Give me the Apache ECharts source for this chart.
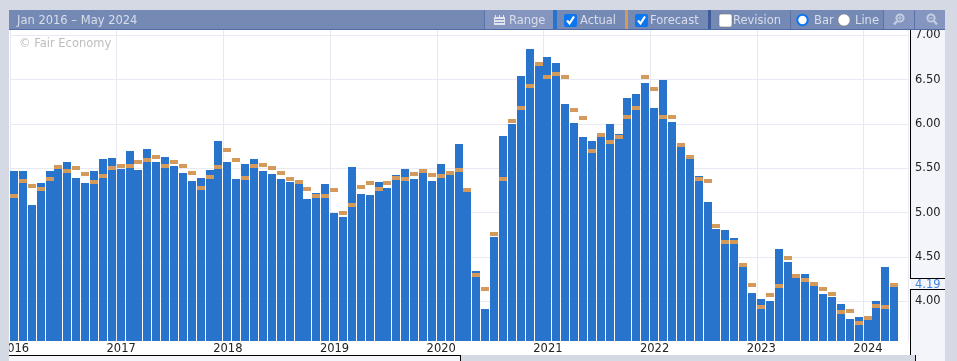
<!DOCTYPE html>
<html><head><meta charset="utf-8">
<style>html,body{margin:0;padding:0;background:#d5d9e3;overflow:hidden}#c{width:957px;height:361px}</style>
<script src="https://cdn.jsdelivr.net/npm/echarts@6/dist/echarts.min.js"></script>
</head><body><div id="c"></div>
<script>
const years = [2016,2017,2018,2019,2020,2021,2022,2023,2024];
const actual = [
5.47,5.47,5.08,5.33,5.46,5.49,5.57,5.39,5.33,5.47,5.60,5.61,
5.49,5.69,5.48,5.71,5.57,5.62,5.52,5.44,5.35,5.39,5.48,5.80,
5.57,5.38,5.55,5.60,5.47,5.43,5.38,5.34,5.32,5.15,5.22,5.32,
4.99,4.95,5.51,5.21,5.20,5.34,5.27,5.42,5.49,5.38,5.44,5.35,
5.55,5.42,5.77,5.23,4.34,3.91,4.72,5.86,6.00,6.54,6.84,6.65,
6.75,6.68,6.22,6.01,5.85,5.80,5.85,5.99,5.88,6.29,6.33,6.46,
6.18,6.49,6.02,5.74,5.60,5.41,5.12,4.81,4.80,4.71,4.43,4.09,
4.02,4.00,4.59,4.44,4.26,4.30,4.17,4.08,4.05,3.97,3.80,3.82,
3.79,4.00,4.38,4.16];
const forecast = [
5.18,5.35,5.30,5.26,5.38,5.51,5.46,5.50,5.43,5.34,5.41,5.50,
5.52,5.52,5.57,5.59,5.62,5.52,5.57,5.52,5.44,5.27,5.40,5.51,
5.70,5.59,5.39,5.52,5.53,5.50,5.44,5.38,5.34,5.26,5.18,5.18,
5.25,4.99,5.08,5.29,5.33,5.26,5.33,5.39,5.37,5.43,5.47,5.42,
5.41,5.44,5.48,5.25,4.29,4.14,4.75,5.38,6.03,6.18,6.42,6.67,
6.53,6.56,6.53,6.15,6.06,5.69,5.87,5.79,5.85,6.08,6.18,6.53,
6.39,6.08,6.08,5.76,5.62,5.38,5.35,4.85,4.67,4.67,4.40,4.18,
3.93,4.07,4.17,4.49,4.28,4.24,4.19,4.14,4.08,3.88,3.89,3.75,
3.81,3.94,3.93,4.18];
const yTicks = [4,4.5,5,5.5,6,6.5,7];
const latestValue = '4.19';
const rangeLabel = 'Jan 2016 – May 2024';
const categories = [];
years.forEach(y => { for (let m = 1; m <= 12; m++) if (categories.length < 101) categories.push(y + '-' + String(m).padStart(2,'0')); });

const F = 'DejaVu Sans';
const hdr = '#7589b5', hdrLight = '#8496bf', txt = '#d9deea', sepC = '#5a72a8', panel = '#f3f5fa', blue = '#2874cc', org = '#d39a5c';
const yMin = 3.553, yMax = 7.06;
const rect = (x,y,w,h,fill,z,extra) => Object.assign({type:'rect',shape:{x,y,width:w,height:h},style:{fill},z:z,silent:true},extra||{});
const label = (x,y,t,fill,size,z) => ({type:'text',x,y,z:z||110,silent:true,style:{text:t,fill:fill||txt,font:(size||11.5)+'px "'+F+'"',textVerticalAlign:'middle',textBaseline:'middle'}});
const tick = x => ({type:'polyline',z:112,silent:true,shape:{points:[[x+3,20.5],[x+5.5,23.5],[x+10,16.5]]},style:{stroke:'#fff',lineWidth:2.2,fill:null}});
const check = (x,on) => on
  ? [rect(x,14,13,13,'#0b76f0',111,{shape:{x,y:14,width:13,height:13,r:2}}), tick(x)]
  : [rect(x,14,13,13,'#fff',111,{shape:{x,y:14,width:13,height:13,r:2},style:{fill:'#fff',stroke:'#777',lineWidth:0.6}})];
const lens = (cx,minus) => {
  const c='#c3cde0', out=[
    {type:'circle',z:112,silent:true,shape:{cx:cx+1,cy:18,r:3.6},style:{fill:null,stroke:c,lineWidth:2}},
    {type:'line',z:112,silent:true,shape:minus?{x1:cx+3.8,y1:21,x2:cx+7,y2:24.5}:{x1:cx-1.8,y1:21,x2:cx-5,y2:24.5},style:{stroke:c,lineWidth:2.4}},
    {type:'line',z:113,silent:true,shape:{x1:cx-1,y1:18,x2:cx+3,y2:18},style:{stroke:c,lineWidth:1}}];
  if(!minus) out.push({type:'line',z:113,silent:true,shape:{x1:cx+1,y1:16,x2:cx+1,y2:20},style:{stroke:c,lineWidth:1}});
  return out;
};
const chrome = [
  rect(0,0,9,361,'#d5d9e3',100), rect(0,0,957,10,'#d5d9e3',100), rect(945,0,12,361,'#d5d9e3',100),
  rect(911,30,34,331,panel,-2),
  rect(910,30,1,249,'#000',100), rect(910,278,35,1,'#000',100),
  rect(910,289,35,1,'#000',100), rect(910,289,1,66,'#000',100),
  rect(910,355,5,1,'#000',100), rect(915,355,1,6,'#000',100),
  label(915,285.5,latestValue,'#3f87e0',11.5),
  rect(9,355,451,1,'#000',100), rect(9,356,451,5,panel,100), rect(460,355,1,6,'#000',100),
  rect(461,355,454,6,'#d5d9e3',100),
  rect(9,10,936,20,hdr,100), rect(9,29,936,1,'#506aa5',101),
  rect(484,10,69,19,hdrLight,101), rect(883,10,62,19,hdrLight,101),
  rect(484,10,1,19,sepC,102), rect(790,10,1,19,sepC,102), rect(883,10,1,19,sepC,102), rect(914,10,1,19,sepC,102),
  rect(553,10,4,19,blue,102), rect(625,10,3,19,org,102), rect(708,10,3,19,'#3e5c9a',102),
  label(17,21,rangeLabel,txt),
  label(509,21,'Range',txt),
  rect(494,17,11,8,'#dfe4ef',102), rect(495,19,9,1,hdrLight,103), rect(495,22,9,1,hdrLight,103),
  rect(495,15,1,2,'#dfe4ef',102), rect(499,15,1,2,'#dfe4ef',102), rect(503,15,1,2,'#dfe4ef',102),
  ...check(564,true), label(580,21,'Actual',txt),
  ...check(635,true), label(650,21,'Forecast',txt),
  ...check(719,false), label(733,21,'Revision',txt),
  {type:'circle',z:111,silent:true,shape:{cx:802.5,cy:20,r:5.2},style:{fill:'#fff',stroke:'#0b76f0',lineWidth:2}},
  label(814,21,'Bar',txt),
  {type:'circle',z:111,silent:true,shape:{cx:844,cy:20,r:6},style:{fill:'#fff',stroke:'#888',lineWidth:0.6}},
  label(855,21,'Line',txt),
  ...lens(899,false), ...lens(930,true),
  label(19,44.5,'© Fair Economy','#bdbdbd',11.5,5)
];

const snapX = (api,i) => {
  const band = api.size([1,0])[0], left = api.coord([i,0])[0] - band/2;
  const a = Math.round(left), b = Math.round(left + band) - 1;
  return [a, Math.max(b - a, 8)];
};
const yearTick = i => i % 12 === 0;
const chart = echarts.init(document.getElementById('c'), null, {renderer:'canvas'});
chart.setOption({
  animation:false,
  backgroundColor:'#fff',
  grid:{left:10,top:30,width:898,height:311,containLabel:false,outerBoundsMode:'none'},
  graphic:{elements:chrome},
  xAxis:{type:'category',data:categories,boundaryGap:true,
    axisLine:{show:false},
    axisTick:{show:false,alignWithLabel:true,interval:(i)=>yearTick(i)},
    splitLine:{show:true,interval:(i)=>yearTick(i),lineStyle:{color:'#e8eaf3',width:1}},
    axisLabel:{interval:(i)=>yearTick(i),hideOverlap:false,formatter:v=>v.slice(0,4),color:'#222',fontFamily:F,fontSize:11.5,margin:2,showMinLabel:true}},
  yAxis:{type:'value',position:'right',min:yMin,max:yMax,
    axisLine:{show:false},
    axisTick:{show:false,customValues:yTicks},
    splitLine:{show:true,lineStyle:{color:'#e8eaf3',width:1}},
    axisLabel:{customValues:yTicks,formatter:v=>v.toFixed(2),color:'#222',fontFamily:F,fontSize:11.5,margin:7,align:'left',padding:[2,0,0,0]}},
  series:[
    {name:'Actual',type:'custom',data:actual,silent:true,z:2,encode:{x:0,y:1},
      renderItem:(params,api)=>{
        const i = api.value(0), [x,w] = snapX(api,i);
        const top = Math.round(api.coord([i,api.value(1)])[1]-0.4), base = Math.round(api.coord([i,yMin])[1]);
        return {type:'rect',shape:{x,y:top,width:w,height:base-top},style:{fill:blue}};
      }},
    {name:'Forecast',type:'custom',data:forecast,silent:true,z:3,encode:{x:0,y:1},
      renderItem:(params,api)=>{
        const i = api.value(0), [x,w] = snapX(api,i);
        const y = Math.round(api.coord([i,api.value(1)])[1]-2.4);
        return {type:'rect',shape:{x,y,width:w,height:4},style:{fill:org}};
      }}
  ]
});
</script></body></html>
